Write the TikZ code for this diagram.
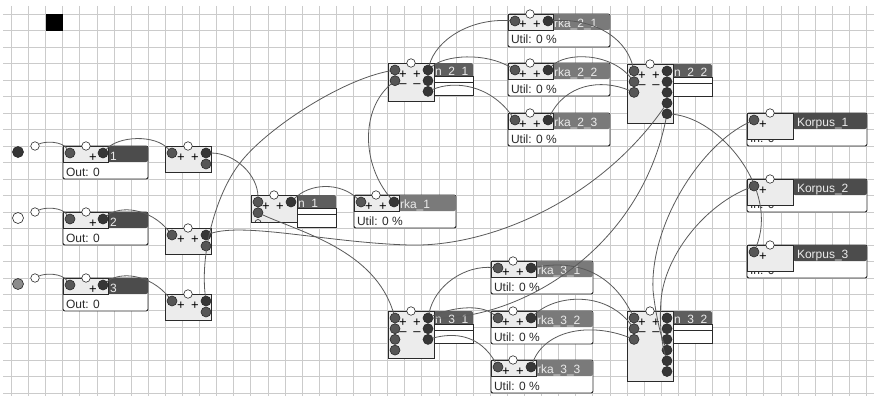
\documentclass[tikz,border=0pt]{standalone}
\usepackage{fontspec}
\setmainfont{Liberation Sans}
\usetikzlibrary{arrows.meta,positioning,calc}
\definecolor{ink}{HTML}{2A2A2A}
\definecolor{gridline}{HTML}{CBCBCB}
\definecolor{head}{HTML}{4C4C4C}
\definecolor{headmid}{HTML}{5E5E5E}
\definecolor{headsoft}{HTML}{7A7A7A}
\definecolor{pane}{HTML}{ECECEC}
\definecolor{portin}{HTML}{565656}
\definecolor{portout}{HTML}{363636}
\definecolor{wirecol}{HTML}{5A5A5A}
\tikzset{
  txt/.style={font=\fontsize{12}{12}\selectfont, inner sep=0pt, outer sep=0pt, anchor=base west, text=ink},
  ttl/.style={txt, text=white!92!black},
  sign/.style={font=\fontsize{13}{13}\selectfont, inner sep=0pt, outer sep=0pt, text=black, text height=6pt, text depth=0pt},
  frame/.style={draw=ink, line width=0.9pt, rounded corners=2pt, fill=white, anchor=north west, inner sep=0pt, outer sep=0pt},
  titlebar/.style={frame, draw=none},
  panebox/.style={draw=ink, line width=0.9pt, fill=pane, anchor=north west, inner sep=0pt, outer sep=0pt},
  rowbox/.style={draw=ink, line width=0.9pt, fill=white, anchor=north west, inner sep=0pt, outer sep=0pt},
  portl/.style={circle, draw=ink, line width=0.6pt, fill=portin, minimum size=10pt, inner sep=0pt, outer sep=0pt},
  portr/.style={portl, fill=portout},
  pin/.style={circle, draw=ink, line width=0.6pt, fill=white, minimum size=8.5pt, inner sep=0pt, outer sep=0pt},
  srcdot/.style={circle, draw=ink, line width=0.6pt, minimum size=11pt, inner sep=0pt, outer sep=0pt},
  wire/.style={draw=wirecol, line width=0.8pt}
}
% #1 name, #2 x, #3 y, #4 title
\newcommand{\outblk}[4]{\begin{scope}[shift={(#2,#3)}]
  \node[frame, minimum width=85pt, minimum height=33pt] (#1) at (0,0) {};
  \node[titlebar, fill=head, minimum width=85pt, minimum height=16pt] (#1-bar) at (0,0) {};
  \node[ttl] (#1-t) at (47,14) {#4};
  \node[txt] (#1-v) at (3,30) {Out: 0};
  \node[panebox, minimum width=45pt, minimum height=16pt] (#1-pane) at (0,0) {};
  \node[portl] (#1-i) at (7,7) {}; \node[portr] (#1-o) at (40,7) {};
  \node[pin] (#1-c) at (23,0) {}; \node[sign] (#1-p) at (30,12) {+};
\end{scope}}
% #1 name, #2 x, #3 y, #4 title
\newcommand{\rkablk}[4]{\begin{scope}[shift={(#2,#3)}]
  \node[frame, minimum width=102pt, minimum height=33pt] (#1) at (0,0) {};
  \node[titlebar, fill=headsoft, minimum width=102pt, minimum height=16pt] (#1-bar) at (0,0) {};
  \node[ttl] (#1-t) at (46,13.5) {#4};
  \node[txt] (#1-v) at (3,30) {Util: 0 \%};
  \node[panebox, minimum width=45pt, minimum height=16pt] (#1-pane) at (0,0) {};
  \node[portl] (#1-i) at (7,7) {}; \node[portr] (#1-o) at (40,7) {};
  \node[pin] (#1-c) at (22,0) {};
  \node[sign] (#1-p1) at (15,12) {+}; \node[sign] (#1-p2) at (29,12) {+};
\end{scope}}
% #1 name, #2 x, #3 y
\newcommand{\splitblk}[3]{\begin{scope}[shift={(#2,#3)}]
  \node[panebox, minimum width=46pt, minimum height=26pt] (#1) at (0,0) {};
  \node[portl] (#1-i) at (7,7) {}; \node[portr] (#1-o1) at (41,7) {}; \node[portl] (#1-o2) at (41,18) {};
  \node[pin] (#1-c) at (23,0) {};
  \node[sign] (#1-p1) at (16,12) {+}; \node[sign] (#1-p2) at (30,12) {+};
\end{scope}}
% #1 name, #2 x, #3 y, #4 title, #5 pane height, #6 left ports, #7 right ports
\newcommand{\nodblk}[7]{\begin{scope}[shift={(#2,#3)}]
  \node[titlebar, fill=headmid, minimum width=85pt, minimum height=16pt] (#1-bar) at (0,0) {};
  \node[ttl] (#1-t) at (47,12.5) {#4};
  \node[rowbox, minimum width=39pt, minimum height=6pt] (#1-r1) at (46,13) {};
  \node[rowbox, minimum width=39pt, minimum height=13pt] (#1-r2) at (46,19) {};
  \node[panebox, minimum width=46pt, minimum height=#5pt] (#1) at (0,0) {};
  \foreach \i [evaluate=\i as \py using 7+10.7*(\i-1)] in {1,...,#6} \node[portl] (#1-l\i) at (7,\py) {};
  \foreach \i [evaluate=\i as \py using 7+10.7*(\i-1)] in {1,...,#7} \node[portr] (#1-q\i) at (40,\py) {};
  \node[pin] (#1-c) at (23,0) {};
  \node[sign] (#1-p1) at (15,12) {+}; \node[sign] (#1-p2) at (29,12) {+};
  \ifnum#7>1 \node[sign] (#1-m1) at (15,21.5) {–}; \node[sign] (#1-m2) at (29,21.5) {–}; \fi
\end{scope}}
% #1 name, #2 x, #3 y, #4 title
\newcommand{\korpblk}[4]{\begin{scope}[shift={(#2,#3)}]
  \node[frame, minimum width=120pt, minimum height=33pt] (#1) at (0,0) {};
  \node[titlebar, fill=head, minimum width=74pt, minimum height=16pt] (#1-bar) at (46,0) {};
  \node[ttl] (#1-t) at (50,13.5) {#4};
  \node[txt] (#1-v) at (3,29) {In: 0};
  \node[panebox, minimum width=46pt, minimum height=26pt] (#1-pane) at (0,0) {};
  \node[portl] (#1-i) at (7,7) {}; \node[pin] (#1-c) at (23,0) {};
  \node[sign] (#1-p) at (16,12) {+};
\end{scope}}
\begin{document}
\begin{tikzpicture}[x=1pt, y=-1pt]
\useasboundingbox (0,0) rectangle (874,396);
\fill[white] (0,0) rectangle (874,396);
% raster
\foreach \k in {0,...,50} \draw[gridline, line width=1.2pt] ({round(11+17.1*\k)+0.5},6) -- ({round(11+17.1*\k)+0.5},396);
\foreach \k in {0,...,23} \draw[gridline, line width=1.2pt] (3,{round(14+16.47*\k)+0.5}) -- (874,{round(14+16.47*\k)+0.5});
\node[fill=black, minimum size=17pt, inner sep=0pt, anchor=north west] (mark) at (46,14) {};
% sources
\node[srcdot, fill=portout] (src1) at (18,152) {}; \node[pin] (tap1) at (35,146) {};
\node[srcdot, fill=white] (src2) at (18,218) {}; \node[pin] (tap2) at (35,212) {};
\node[srcdot, fill=black!45] (src3) at (18,284) {}; \node[pin] (tap3) at (35,278) {};
% blocks
\outblk{a1}{63}{146}{1} \outblk{a2}{63}{212}{2} \outblk{a3}{63}{278}{3}
\splitblk{s1}{165}{146} \splitblk{s2}{165}{228} \splitblk{s3}{165}{294}
\nodblk{n1}{251}{195}{n\_1}{27}{2}{1}
\rkablk{r1}{354}{195}{rka\_1}
\nodblk{n21}{388}{63}{n\_2\_1}{38}{2}{3}
\rkablk{r21}{508}{14}{rka\_2\_1} \rkablk{r22}{508}{63}{rka\_2\_2} \rkablk{r23}{508}{113}{rka\_2\_3}
\nodblk{n22}{627}{64}{n\_2\_2}{59}{3}{5}
\nodblk{n31}{388}{311}{n\_3\_1}{47}{4}{3}
\rkablk{r31}{491}{261}{rka\_3\_1} \rkablk{r32}{491}{311}{rka\_3\_2} \rkablk{r33}{491}{360}{rka\_3\_3}
\nodblk{n32}{627}{311}{n\_3\_2}{70}{3}{6}
\korpblk{k1}{747}{113}{Korpus\_1} \korpblk{k2}{747}{179}{Korpus\_2} \korpblk{k3}{747}{245}{Korpus\_3}
\draw[ink, line width=0.6pt] (255,222.5) arc (180:360:3);
% inputs
\draw[wire] (tap1) .. controls (45,141) and (62,141) .. (a1-i);
\draw[wire] (tap2) .. controls (45,207) and (62,207) .. (a2-i);
\draw[wire] (tap3) .. controls (45,273) and (62,273) .. (a3-i);
\draw[wire] (a1-o) .. controls (118,136) and (155,134) .. (s1-i);
\draw[wire] (a2-o) .. controls (120,205) and (150,208) .. (s2-i);
\draw[wire] (a3-o) .. controls (120,271) and (150,274) .. (s3-i);
\draw[wire] (s1-o1) .. controls (235,153) and (258,175) .. (n1-l1);
\draw[wire] (s2-o1) .. controls (245,222) and (330,243) .. (410,245) .. controls (490,247) and (600,200) .. (n22-q4);
\draw[wire] (s3-o1) .. controls (200,255) and (215,195) .. (240,163) .. controls (265,130) and (340,80) .. (n21-l1);
% first stage
\draw[wire] (n1-l2) .. controls (300,232) and (375,250) .. (n31-l1);
\draw[wire] (n1-q1) .. controls (310,183) and (340,182) .. (r1-i);
\draw[wire] (r1-o) .. controls (362,165) and (360,110) .. (n21-l2);
% upper branch
\draw[wire] (n21-q1) .. controls (436,40) and (470,18) .. (r21-i);
\draw[wire] (n21-q1) .. controls (445,55) and (485,52) .. (r22-i);
\draw[wire] (n21-q3) .. controls (455,80) and (490,85) .. (r23-i);
\draw[wire] (r21-o) .. controls (590,18) and (625,35) .. (n22-l1);
\draw[wire] (r22-o) .. controls (565,52) and (610,52) .. (n22-l2);
\draw[wire] (r23-o) .. controls (565,85) and (600,78) .. (n22-l3);
% lower branch
\draw[wire] (n31-q1) .. controls (435,285) and (465,265) .. (r31-i);
\draw[wire] (n31-q1) .. controls (450,308) and (480,303) .. (r32-i);
\draw[wire] (n31-q3) .. controls (455,332) and (480,335) .. (r33-i);
\draw[wire] (r31-o) .. controls (585,258) and (615,280) .. (n32-l1);
\draw[wire] (r32-o) .. controls (555,295) and (605,290) .. (n32-l2);
\draw[wire] (r33-o) .. controls (545,330) and (590,322) .. (n32-l3);
\draw[wire] (n31-q1) .. controls (520,320) and (640,250) .. (n22-q5);
% outputs
\draw[wire] (n22-q5) .. controls (720,118) and (780,190) .. (k3-i);
\draw[wire] (k1-i) .. controls (700,145) and (650,225) .. (653,290) .. controls (655,310) and (660,335) .. (n32-q4);
\draw[wire] (k2-i) .. controls (705,205) and (665,255) .. (661,300) .. controls (659,325) and (662,345) .. (n32-q5);
\end{tikzpicture}
\end{document}
